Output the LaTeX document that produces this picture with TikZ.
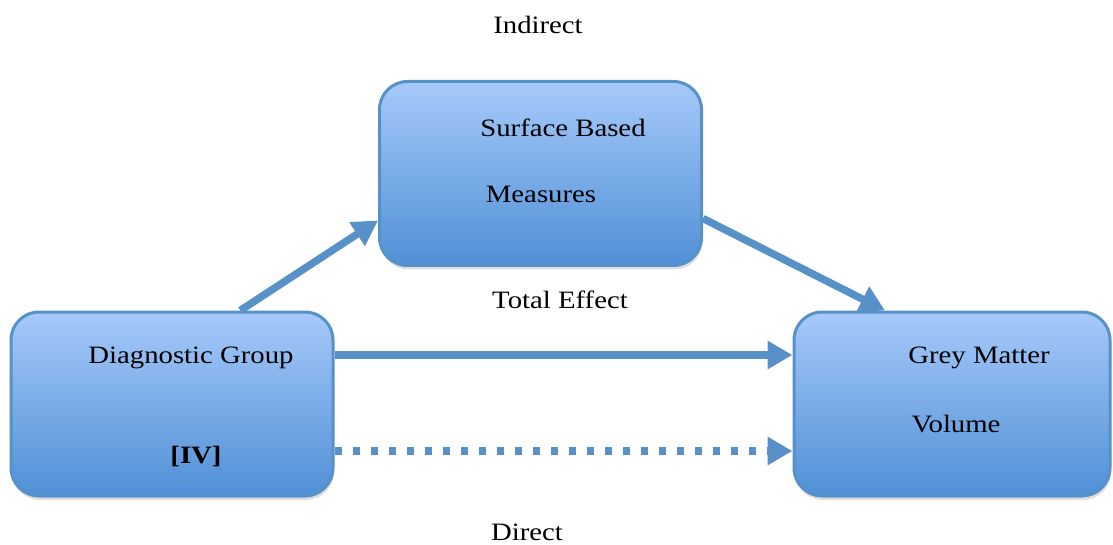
\documentclass[tikz,border=0pt]{standalone}
\usepackage{fontspec}
\setmainfont{Liberation Serif}[FakeStretch=1.15]
\definecolor{EdgeBlue}{RGB}{88, 145, 200}
\definecolor{BoxTop}{RGB}{166, 201, 250}
\definecolor{BoxBottom}{RGB}{80, 144, 214}
\usetikzlibrary{arrows.meta, calc, shadows}

\begin{document}
\begin{tikzpicture}[x=1pt, y=-1pt,
    box/.style={draw=EdgeBlue, line width=3pt, rounded corners=28pt,
        top color=BoxTop, bottom color=BoxBottom,
        minimum height=184pt,
        drop shadow={opacity=0.25, shadow xshift=1pt, shadow yshift=-4pt}},
    link/.style={EdgeBlue, line width=7.5pt, -{Triangle[length=25pt, width=27pt]}},
    lbl/.style={font=\fontsize{25}{30}\selectfont}]
    \useasboundingbox (0,0) rectangle (1113,545);

    % boxes
    \node[box, minimum width=322pt] (diag) at (172,404) {};
    \node[box, minimum width=322pt] (surf) at (540.5,173.5) {};
    \node[box, minimum width=316pt] (grey) at (952,404) {};

    % box texts
    \node[lbl] (diagtxt) at (191,358) {Diagnostic Group};
    \node[lbl, font=\fontsize{25}{30}\selectfont\bfseries] (ivtxt) at (196,456) {[IV]};
    \node[lbl] (surftxt) at (563,128) {Surface Based};
    \node[lbl] (meastxt) at (541,194) {Measures};
    \node[lbl] (greytxt) at (979,358) {Grey Matter};
    \node[lbl] (voltxt) at (956,424) {Volume};

    % path labels
    \node[lbl] (indirect) at (538,25) {Indirect};
    \node[lbl] (total) at (560,300) {Total Effect};
    \node[lbl] (direct) at (527,532) {Direct};

    % indirect path
    \draw[link] ($(diag.north west)!0.71!(diag.north east)$) -- ([yshift=-47pt]surf.west);
    \draw[link] ([yshift=-45pt]surf.east) -- ([xshift=-67pt]grey.north);

    % total and direct
    \draw[link] ([yshift=49pt]diag.east) -- ([yshift=49pt]grey.west);
    \draw[link, dash pattern=on 7pt off 11pt] ([yshift=-47pt]diag.east) -- ([yshift=-47pt]grey.west);
\end{tikzpicture}
\end{document}
